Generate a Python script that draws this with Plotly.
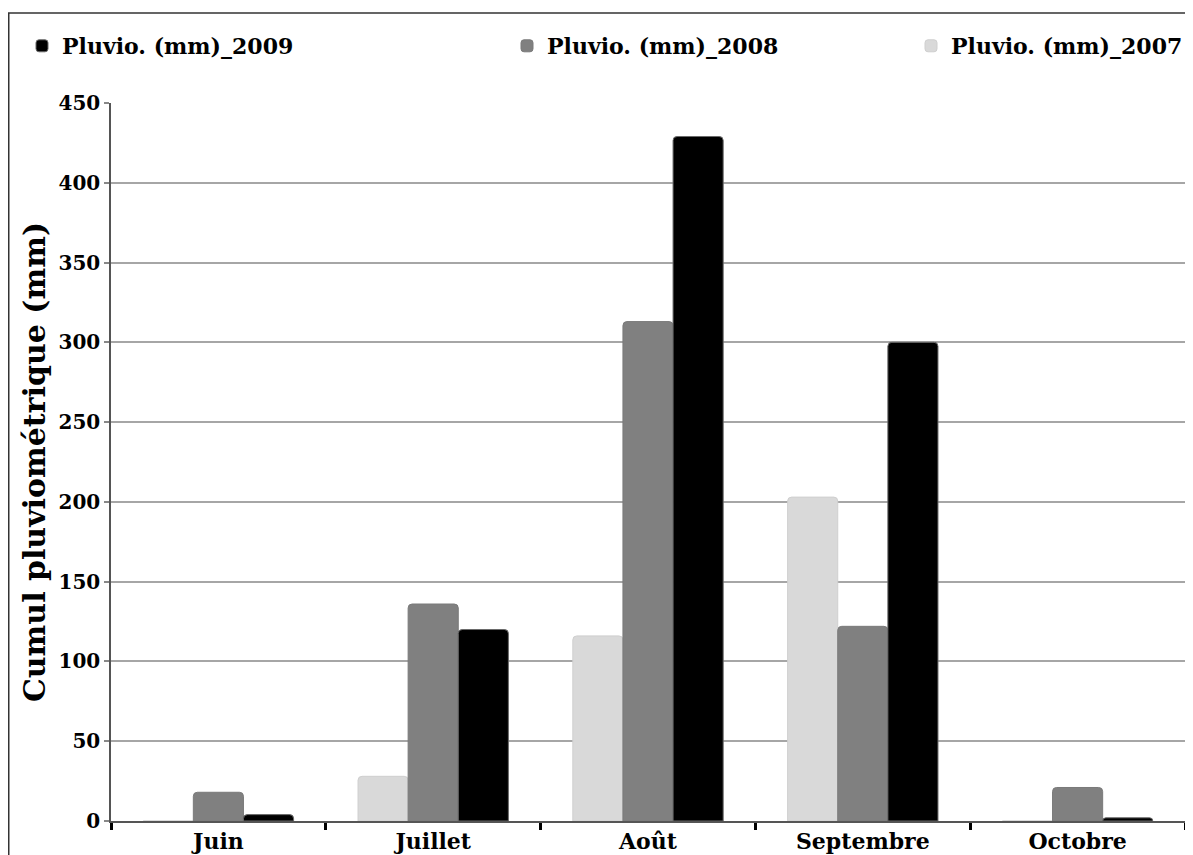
import plotly.graph_objects as go

months = ["Juin", "Juillet", "Août", "Septembre", "Octobre"]
pluvio_2007 = [0, 28, 116, 203, 0]
pluvio_2008 = [18, 136, 313, 122, 21]
pluvio_2009 = [4, 120, 429, 300, 2]
y_ticks = [0, 50, 100, 150, 200, 250, 300, 350, 400, 450]

FONT = "DejaVu Serif"
# the page adds an 8px body margin, so the figure is sized to end at the window edge
W, H = 1185, 847
ML, MR, MT, MB = 103, 8, 95, 34
PW, PH = W - ML - MR, H - MT - MB

def px_x(px):
    return (px - ML) / PW

def px_y(py):
    return (H - MB - py) / PH

fig = go.Figure()
series = [
    ("Pluvio. (mm)_2007", pluvio_2007, "#d9d9d9", "#cfcfcf", "legend4"),
    ("Pluvio. (mm)_2008", pluvio_2008, "#808080", "#7a7a7a", "legend3"),
    ("Pluvio. (mm)_2009", pluvio_2009, "#000000", "#6a6a6a", "legend2"),
]
for name, vals, col, edge, leg in series:
    fig.add_trace(go.Bar(
        x=months, y=vals, name=name,
        marker=dict(color=col, line=dict(color=edge, width=1), cornerradius=4),
        legend=leg,
    ))

legfont = dict(family=FONT, size=22, color="#000000", weight="bold")
def leg(px):
    return dict(x=px_x(px), y=px_y(38), xanchor="left", yanchor="middle",
                orientation="h", font=legfont, bgcolor="rgba(0,0,0,0)",
                itemwidth=30, tracegroupgap=0)

fig.update_layout(
    width=W, height=H,
    margin=dict(l=ML, r=MR, t=MT, b=MB, autoexpand=False),
    paper_bgcolor="white", plot_bgcolor="white",
    barmode="group", bargap=0.3, bargroupgap=0,
    font=dict(family=FONT, size=22, color="#000000", weight="bold"),
    showlegend=True,
    legend2=leg(14),
    legend3=leg(499),
    legend4=leg(903),
    xaxis=dict(
        type="category", automargin=False,
        tickson="boundaries", ticks="outside", ticklen=7, tickwidth=2.5,
        tickcolor="#000000",
        showline=True, linecolor="#555555", linewidth=2,
        showgrid=False,
        tickfont=dict(family=FONT, size=22, color="#000000", weight="bold"),
    ),
    yaxis=dict(
        range=[0, 450], tickvals=y_ticks, automargin=False,
        ticks="outside", ticklen=5, tickcolor="#888888", tickwidth=1.5,
        showline=True, linecolor="#555555", linewidth=1.5, mirror=True,
        showgrid=True, gridcolor="#a6a6a6", gridwidth=1.5,
        zeroline=False,
        tickfont=dict(family=FONT, size=20, color="#000000", weight="bold"),
        title=dict(text="Cumul pluviométrique (mm)",
                   font=dict(family=FONT, size=30, color="#000000", weight="bold"),
                   standoff=4),
    ),
    shapes=[dict(
        type="rect", xref="paper", yref="paper",
        x0=px_x(0.75), x1=px_x(W + 20), y0=px_y(H + 20), y1=px_y(5),
        line=dict(color="#333333", width=1.5), fillcolor="rgba(0,0,0,0)",
        layer="below",
    )],
)

fig.write_html("out.html")
